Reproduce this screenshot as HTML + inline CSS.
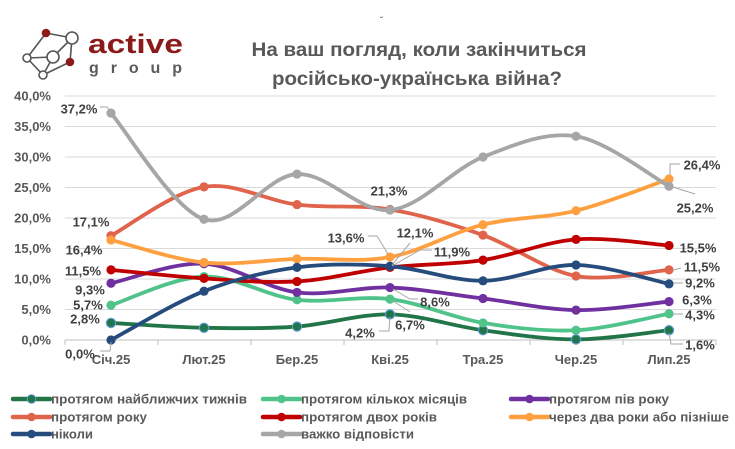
<!DOCTYPE html>
<html>
<head>
<meta charset="utf-8">
<style>
html,body{margin:0;padding:0;background:#fff;}
svg{display:block;}
text{font-family:"Liberation Sans","Noto Sans CJK SC",sans-serif;font-weight:bold;}
</style>
</head>
<body>
<svg id="c" width="735" height="449" viewBox="0 0 735 449" xmlns="http://www.w3.org/2000/svg">
<rect width="735" height="449" fill="#fff"/>
<!-- logo -->
<g stroke="#555" stroke-width="1.6" fill="none">
<line x1="46" y1="33" x2="72" y2="38"/>
<line x1="46" y1="33" x2="27" y2="58"/>
<line x1="27" y1="58" x2="53" y2="57"/>
<line x1="53" y1="57" x2="72" y2="38"/>
<line x1="27" y1="58" x2="43" y2="75"/>
<line x1="43" y1="75" x2="70" y2="62"/>
<line x1="70" y1="62" x2="72" y2="38"/>
<line x1="53" y1="57" x2="43" y2="75"/>
</g>
<circle cx="72" cy="38" r="6" fill="#fff" stroke="#555" stroke-width="1.6"/>
<circle cx="53" cy="57" r="6" fill="#fff" stroke="#555" stroke-width="1.6"/>
<circle cx="27" cy="58" r="4" fill="#fff" stroke="#555" stroke-width="1.6"/>
<circle cx="43" cy="75" r="4" fill="#fff" stroke="#555" stroke-width="1.6"/>
<circle cx="46" cy="33" r="4.3" fill="#8b1a1a"/>
<circle cx="70" cy="62" r="4.3" fill="#8b1a1a"/>
<text x="88" y="53" font-size="27" fill="#8b1a1a" textLength="95" lengthAdjust="spacingAndGlyphs">active</text>
<text x="89" y="73" font-size="16" fill="#5a5a5a" textLength="93" lengthAdjust="spacing">group</text>
<text x="380" y="24" font-size="10" fill="#777">˘</text>
<!-- title -->
<text x="419" y="56" font-size="19" fill="#595959" text-anchor="middle" textLength="335" lengthAdjust="spacingAndGlyphs">На ваш погляд, коли закінчиться</text>
<text x="417" y="85" font-size="19" fill="#595959" text-anchor="middle" textLength="290" lengthAdjust="spacingAndGlyphs">російсько-українська війна?</text>
<g id="grid"></g>
<g id="ylab" font-size="13" fill="#595959" text-anchor="end"></g>
<g id="xlab" font-size="13" fill="#595959" text-anchor="middle"></g>
<g id="series"></g>
<!-- leader lines -->
<g stroke="#a6a6a6" stroke-width="1" fill="none">
<polyline points="100,107 107,107 111,112"/>
<polyline points="111,342 110,351 100,351"/>
<polyline points="368,236 377,236 388,254"/>
<polyline points="410,243 392,265"/>
<polyline points="432,250 420,250 392,266"/>
<polyline points="393,289 410,299 418,299"/>
<polyline points="393,301 410,312"/>
<polyline points="390,317 389,331 379,331"/>
<polyline points="670,175 670,164 680,164"/>
<polyline points="673,187 695,194"/>
<polyline points="673,270 681,268"/>
<polyline points="673,283 683,283"/>
<polyline points="673,314 683,314"/>
<polyline points="669,333 671,344 683,344"/>
</g>
<g font-size="13" fill="#404040" text-anchor="middle">
<text x="79" y="113.5">37,2%</text>
<text x="91" y="226.5">17,1%</text>
<text x="84" y="254.5">16,4%</text>
<text x="83" y="275.5">11,5%</text>
<text x="90" y="294.5">9,3%</text>
<text x="88" y="309.5">5,7%</text>
<text x="85" y="323.5">2,8%</text>
<text x="80" y="358.5">0,0%</text>
<text x="389" y="195.5">21,3%</text>
<text x="346" y="242.5">13,6%</text>
<text x="415" y="237.5">12,1%</text>
<text x="452" y="256.5">11,9%</text>
<text x="435" y="306.5">8,6%</text>
<text x="410" y="329.5">6,7%</text>
<text x="360" y="337.5">4,2%</text>
<text x="702" y="169.5">26,4%</text>
<text x="695" y="212.5">25,2%</text>
<text x="698" y="252.5">15,5%</text>
<text x="702" y="271.5">11,5%</text>
<text x="700" y="287.5">9,2%</text>
<text x="697" y="304.5">6,3%</text>
<text x="700" y="319.5">4,3%</text>
<text x="700" y="349.5">1,6%</text>
</g>
<g id="legend" font-size="12.5" fill="#595959"></g>
</svg>
<script>
(function(){
var NS="http://www.w3.org/2000/svg";
function el(tag,attrs,parent,txt){var e=document.createElementNS(NS,tag);for(var k in attrs)e.setAttribute(k,attrs[k]);if(txt!==undefined)e.textContent=txt;parent.appendChild(e);return e;}
var grid=document.getElementById('grid');
var ylab=document.getElementById('ylab');
var xlab=document.getElementById('xlab');
var yl=["0,0%","5,0%","10,0%","15,0%","20,0%","25,0%","30,0%","35,0%","40,0%"];
for(var k=0;k<=8;k++){
  var y=340-30.5*k;
  el('line',{x1:65,x2:716,y1:y,y2:y,stroke:k==0?'#bfbfbf':'#d9d9d9','stroke-width':1},grid);
  el('text',{x:51,y:y+4.5},ylab,yl[k]);
}
for(var k=0;k<=7;k++){var x=65+93*k;el('line',{x1:x,x2:x,y1:340,y2:345,stroke:'#bfbfbf','stroke-width':1},grid);}
var months=["Січ.25","Лют.25","Бер.25","Кві.25","Тра.25","Чер.25","Лип.25"];
for(var i=0;i<7;i++)el('text',{x:111+93*i,y:364},xlab,months[i]);
var S=[
 {n:"протягом найближчих тижнів",w:196,c:"#227548",v:[2.8,2.0,2.2,4.2,1.6,0.1,1.6],ms:"#5b9bd5"},
 {n:"протягом кількох місяців",w:166,c:"#4fc38a",v:[5.7,10.4,6.6,6.7,2.8,1.6,4.3]},
 {n:"протягом пів року",w:120,c:"#7030a0",v:[9.3,12.5,7.8,8.6,6.8,4.9,6.3]},
 {n:"протягом року",w:96,c:"#e0634c",v:[17.1,25.1,22.2,21.4,17.2,10.5,11.5]},
 {n:"протягом двох років",w:136,c:"#c00000",v:[11.5,10.1,9.6,11.9,13.1,16.5,15.5]},
 {n:"через два роки або пізніше",w:180,c:"#ffa040",v:[16.4,12.7,13.3,13.6,18.9,21.2,26.4]},
 {n:"ніколи",w:42,c:"#264c7d",v:[0.0,8.0,11.9,12.1,9.7,12.3,9.2]},
 {n:"важко відповісти",w:113,c:"#a6a6a6",v:[37.2,19.8,27.2,21.3,30.0,33.4,25.2]}
];
var sg=document.getElementById('series');
S.forEach(function(s){
  var p=s.v.map(function(v,i){return [111+93*i,340-6.1*v];});
  var n=p.length,d="M"+p[0][0]+","+p[0][1];
  for(var i=0;i<n-1;i++){
    var p0=p[Math.max(i-1,0)],p1=p[i],p2=p[i+1],p3=p[Math.min(i+2,n-1)];
    var c1=[p1[0]+(p2[0]-p0[0])/6,p1[1]+(p2[1]-p0[1])/6];
    var c2=[p2[0]-(p3[0]-p1[0])/6,p2[1]-(p3[1]-p1[1])/6];
    d+=" C"+c1[0].toFixed(2)+","+c1[1].toFixed(2)+" "+c2[0].toFixed(2)+","+c2[1].toFixed(2)+" "+p2[0].toFixed(2)+","+p2[1].toFixed(2);
  }
  el('path',{d:d,fill:'none',stroke:s.c,'stroke-width':3.8,'stroke-linecap':'round','stroke-linejoin':'round'},sg);
  p.forEach(function(q){el('circle',{cx:q[0],cy:q[1],r:4.6,fill:s.c,stroke:s.ms||s.c,'stroke-width':s.ms?1.2:0},sg);});
});
var lg=document.getElementById('legend');
var cols=[13,263,511],rows=[399,417,434];
S.forEach(function(s,i){
  var cx=cols[i%3],cy=rows[Math.floor(i/3)];
  el('line',{x1:cx,x2:cx+37,y1:cy,y2:cy,stroke:s.c,'stroke-width':4.5,'stroke-linecap':'round'},lg);
  el('circle',{cx:cx+18.5,cy:cy,r:4.3,fill:s.c,stroke:s.ms||s.c,'stroke-width':s.ms?1:0},lg);
  el('text',{x:cx+38,y:cy+4.5,textLength:s.w,lengthAdjust:'spacingAndGlyphs'},lg,s.n);
});
})();
</script>
</body>
</html>
